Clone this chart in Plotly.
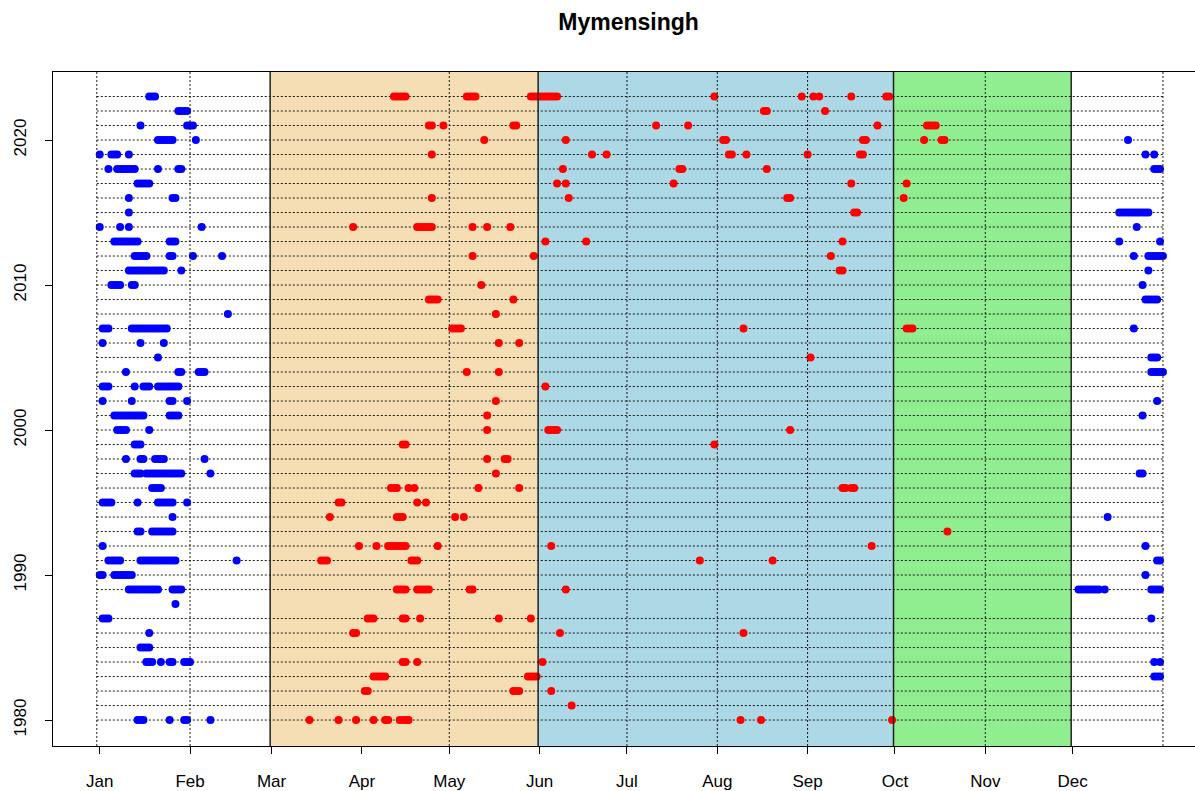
import plotly.graph_objects as go

# ---------------------------------------------------------------------------
# Data: day-of-year of each event day, one row per year (1980-2023)
# ---------------------------------------------------------------------------
years = list(range(1980, 2024))

cold_days = [
    [14, 15, 16, 25, 30, 31, 39],                                  # 1980
    [],                                                            # 1981
    [],                                                            # 1982
    [363, 364, 365],                                               # 1983
    [17, 18, 19, 22, 25, 26, 30, 31, 32, 363, 365],                # 1984
    [15, 16, 17, 18],                                              # 1985
    [18],                                                          # 1986
    [2, 3, 4, 362],                                                # 1987
    [27],                                                          # 1988
    [11, 12, 13, 14, 15, 16, 17, 18, 19, 20, 21, 26, 27, 28, 29,
     337, 338, 339, 340, 341, 342, 343, 344, 346, 362, 363, 364, 365],  # 1989
    [1, 2, 6, 7, 8, 9, 10, 11, 12, 360],                           # 1990
    [4, 5, 6, 7, 8, 15, 16, 17, 18, 19, 20, 21, 22, 23, 24, 25, 26, 27,
     48, 364, 365],                                                # 1991
    [2, 360],                                                      # 1992
    [14, 15, 19, 20, 21, 22, 23, 24, 25, 26],                      # 1993
    [26, 347],                                                     # 1994
    [2, 3, 4, 5, 14, 21, 22, 23, 24, 25, 26, 31],                  # 1995
    [19, 20, 21, 22],                                              # 1996
    [13, 14, 15, 17, 18, 19, 20, 21, 22, 23, 24, 25, 26, 27, 28, 29,
     39, 358, 359],                                                # 1997
    [10, 15, 16, 20, 21, 22, 23, 37],                              # 1998
    [13, 14, 15],                                                  # 1999
    [7, 8, 9, 10, 18],                                             # 2000
    [6, 7, 8, 9, 10, 11, 12, 13, 14, 15, 16, 25, 26, 27, 28, 359], # 2001
    [2, 12, 25, 26, 31, 364],                                      # 2002
    [2, 3, 4, 13, 16, 17, 18, 21, 22, 23, 24, 25, 26, 27, 28],     # 2003
    [10, 28, 29, 35, 36, 37, 362, 363, 364, 365, 366],             # 2004
    [21, 362, 363, 364],                                           # 2005
    [2, 15, 23],                                                   # 2006
    [2, 3, 4, 12, 13, 14, 15, 16, 17, 18, 19, 20, 21, 22, 23, 24, 356],  # 2007
    [45],                                                          # 2008
    [360, 361, 362, 363, 364],                                     # 2009
    [5, 6, 7, 8, 12, 13, 359],                                     # 2010
    [11, 12, 13, 14, 15, 16, 17, 18, 19, 20, 21, 22, 23, 29, 361], # 2011
    [13, 14, 15, 16, 17, 25, 26, 33, 43, 356, 361, 362, 363, 364, 365, 366],  # 2012
    [6, 7, 8, 9, 10, 11, 12, 13, 14, 25, 26, 27, 351, 365],        # 2013
    [1, 8, 11, 36, 357],                                           # 2014
    [11, 351, 352, 353, 354, 355, 356, 357, 358, 359, 360, 361],   # 2015
    [11, 26, 27],                                                  # 2016
    [14, 15, 16, 17, 18],                                          # 2017
    [4, 7, 8, 9, 10, 11, 12, 13, 21, 28, 29, 363, 364, 365],       # 2018
    [1, 5, 6, 7, 11, 360, 363],                                    # 2019
    [21, 22, 23, 24, 25, 26, 34, 354],                             # 2020
    [15, 31, 32, 33],                                              # 2021
    [28, 29, 30, 31],                                              # 2022
    [18, 19, 20],                                                  # 2023
]

hot_days = [
    [73, 83, 89, 95, 99, 100, 104, 105, 106, 107, 221, 228, 273],  # 1980
    [163],                                                         # 1981
    [92, 93, 143, 144, 145, 156],                                  # 1982
    [95, 96, 97, 98, 99, 148, 149, 150, 151],                      # 1983
    [105, 106, 110, 153],                                          # 1984
    [],                                                            # 1985
    [88, 89, 159, 222],                                            # 1986
    [93, 94, 95, 105, 106, 111, 138, 149],                         # 1987
    [],                                                            # 1988
    [103, 104, 105, 106, 110, 111, 112, 113, 114, 128, 129, 161],  # 1989
    [],                                                            # 1990
    [77, 78, 79, 108, 109, 110, 207, 232],                         # 1991
    [90, 96, 100, 101, 102, 103, 104, 105, 106, 117, 156, 266],    # 1992
    [292],                                                         # 1993
    [80, 103, 104, 105, 123, 126],                                 # 1994
    [83, 84, 110, 113],                                            # 1995
    [101, 102, 103, 107, 109, 131, 145, 256, 257, 259, 260],       # 1996
    [137],                                                         # 1997
    [134, 140, 141],                                               # 1998
    [105, 106, 212],                                               # 1999
    [134, 155, 156, 157, 158, 238],                                # 2000
    [134],                                                         # 2001
    [137],                                                         # 2002
    [154],                                                         # 2003
    [127, 138],                                                    # 2004
    [245],                                                         # 2005
    [138, 145],                                                    # 2006
    [122, 123, 124, 125, 222, 278, 279, 280],                      # 2007
    [137],                                                         # 2008
    [114, 115, 116, 117, 143],                                     # 2009
    [132],                                                         # 2010
    [255, 256],                                                    # 2011
    [129, 150, 252],                                               # 2012
    [154, 168, 256],                                               # 2013
    [88, 110, 111, 112, 113, 114, 115, 129, 134, 142],             # 2014
    [260, 261],                                                    # 2015
    [115, 162, 237, 238, 277],                                     # 2016
    [158, 161, 198, 259, 278],                                     # 2017
    [160, 200, 201, 230],                                          # 2018
    [115, 170, 175, 217, 218, 223, 244, 262, 263],                 # 2019
    [133, 161, 215, 216, 263, 264, 284, 290, 291],                 # 2020
    [114, 115, 119, 143, 144, 192, 203, 268, 285, 286, 287, 288],  # 2021
    [229, 230, 250],                                               # 2022
    [102, 103, 104, 105, 106, 127, 128, 129, 130,
     149, 150, 151, 152, 153, 154, 155, 156, 157, 158,
     212, 242, 246, 248, 259, 271, 272],                           # 2023
]

# years that carry a horizontal guide line
grid_years = [y for y in years if y != 1988]

# month axis
month_labels = ["Jan", "Feb", "Mar", "Apr", "May", "Jun",
                "Jul", "Aug", "Sep", "Oct", "Nov", "Dec"]
month_start = [1, 32, 60, 91, 121, 152, 182, 213, 244, 274, 305, 335]

# dotted vertical guides (day of year)
guide_days = [0, 32, 121, 182, 213, 244, 305, 366]

# shaded seasons: pre-monsoon, monsoon, post-monsoon
season_from = [59.5, 151.5, 273.5]
season_to = [151.5, 273.5, 334.5]
season_fill = ["#F5DEB3", "#ADD8E6", "#90EE90"]

# ---------------------------------------------------------------------------
fig = go.Figure()

# horizontal dotted guide lines, one per year
gx, gy = [], []
for yr in grid_years:
    gx += [0, 366, None]
    gy += [yr, yr, None]
fig.add_trace(go.Scatter(
    x=gx, y=gy, mode="lines", hoverinfo="skip", showlegend=False,
    line=dict(color="#1a1a1a", width=1, dash="2px,2px"),
))

def flatten(rows):
    xs, ys = [], []
    for yr, days in zip(years, rows):
        xs += days
        ys += [yr] * len(days)
    return xs, ys

cx, cy = flatten(cold_days)
hx, hy = flatten(hot_days)

fig.add_trace(go.Scatter(
    x=cx, y=cy, mode="markers", showlegend=False,
    marker=dict(color="#0000FF", size=8, line=dict(width=0)),
))
fig.add_trace(go.Scatter(
    x=hx, y=hy, mode="markers", showlegend=False,
    marker=dict(color="#FF0000", size=8, line=dict(width=0)),
))

shapes = []
for x0, x1, col in zip(season_from, season_to, season_fill):
    shapes.append(dict(type="rect", xref="x", yref="paper", x0=x0, x1=x1,
                       y0=-0.002, y1=1, fillcolor=col, line=dict(width=0),
                       layer="below"))
for xb in season_from + [season_to[-1]]:
    shapes.append(dict(type="line", xref="x", yref="paper", x0=xb, x1=xb,
                       y0=0, y1=1, line=dict(color="#222222", width=1.5),
                       layer="above"))
for xd in guide_days:
    shapes.append(dict(type="line", xref="x", yref="paper", x0=xd, x1=xd,
                       y0=0, y1=1,
                       line=dict(color="#1a1a1a", width=1, dash="2px,2px"),
                       layer="above"))

fig.update_layout(
    width=1195, height=791,
    margin=dict(l=53, r=0, t=72, b=45),
    paper_bgcolor="white", plot_bgcolor="white",
    font=dict(family="Liberation Sans, Arial, sans-serif", size=17, color="black"),
    title=dict(text="<b>Mymensingh</b>", xref="container", yref="container",
               x=0.526, y=0.972, xanchor="center", yanchor="middle",
               font=dict(size=23, color="black")),
    shapes=shapes,
    showlegend=False,
)

fig.update_xaxes(
    range=[-15.04, 377.0], tickvals=month_start, ticktext=month_labels,
    showgrid=False, zeroline=False, showline=True, mirror=True,
    linecolor="black", linewidth=1, ticks="outside", ticklen=7,
    tickcolor="black", tickfont=dict(size=17), ticklabelstandoff=13,
)
fig.update_yaxes(
    range=[1978.21, 2024.69], tickvals=[1980, 1990, 2000, 2010, 2020],
    tickangle=-90, showgrid=False, zeroline=False, showline=True,
    linecolor="black", linewidth=1, ticks="outside", ticklen=7,
    tickcolor="black", tickfont=dict(size=17), ticklabelstandoff=12,
)

fig.write_html("out.html")
